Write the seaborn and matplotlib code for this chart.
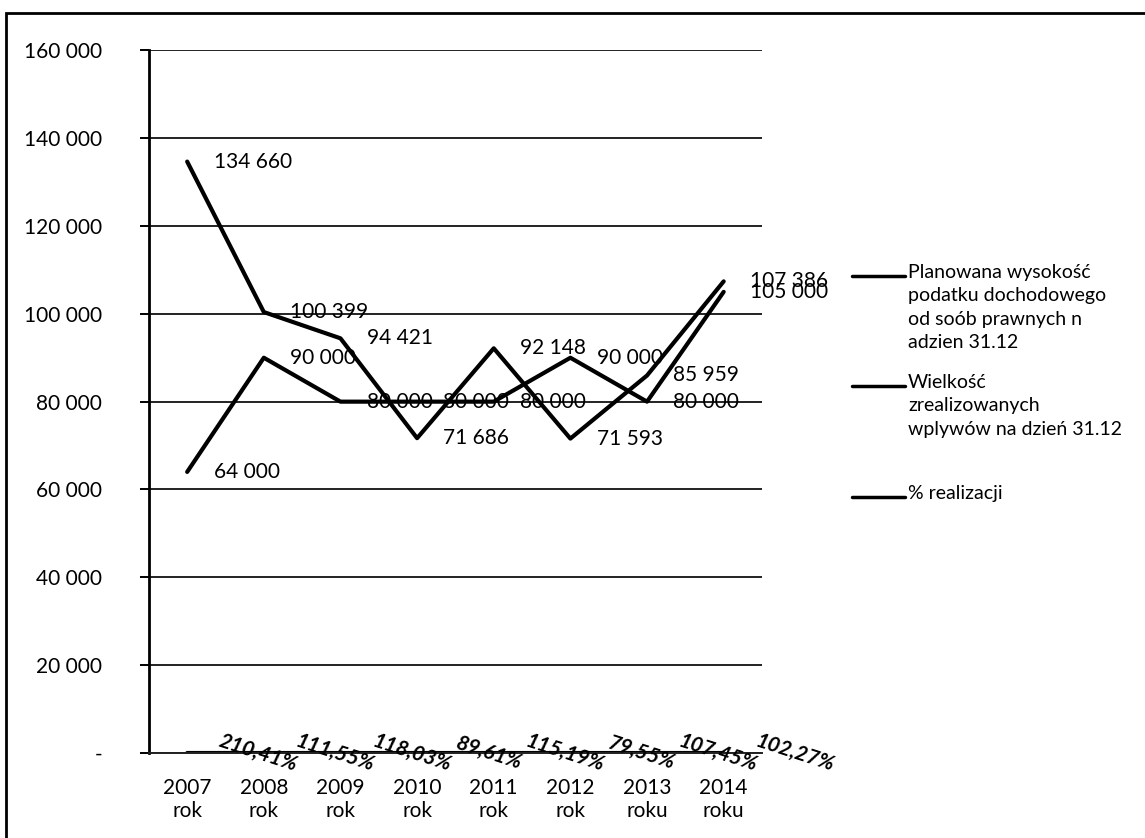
import pandas as pd
import matplotlib.pyplot as plt
from matplotlib.lines import Line2D
from matplotlib.patches import Rectangle
from matplotlib.ticker import FuncFormatter, MultipleLocator
import seaborn as sns

# dane z wykresu
lata = ['2007\nrok', '2008\nrok', '2009\nrok', '2010\nrok', '2011\nrok',
        '2012\nrok', '2013\nroku', '2014\nroku']
planowana = [64000, 90000, 80000, 80000, 80000, 90000, 80000, 105000]
zrealizowane = [134660, 100399, 94421, 71686, 92148, 71593, 85959, 107386]
realizacja = [210.41, 111.55, 118.03, 89.61, 115.19, 79.55, 107.45, 102.27]

nazwy = ['Planowana wysokość\npodatku dochodowego\nod soób prawnych n\nadzien 31.12',
         'Wielkość\nzrealizowanych\nwplywów na dzień 31.12',
         '% realizacji']

sns.set_theme(style='white')
plt.rcParams['font.family'] = ['Lato', 'DejaVu Sans']

def tys(v):
    return f'{v:,.0f}'.replace(',', ' ')

# tabela w formacie długim dla seaborn
rows = []
for i in range(len(lata)):
    rows.append({'poz': i, 'wartosc': planowana[i], 'seria': nazwy[0]})
    rows.append({'poz': i, 'wartosc': zrealizowane[i], 'seria': nazwy[1]})
    rows.append({'poz': i, 'wartosc': realizacja[i] / 100, 'seria': nazwy[2]})
df = pd.DataFrame(rows)

fig = plt.figure(figsize=(11.45, 8.38), dpi=100)
ax = fig.add_axes([0.130, 0.1014, 0.5355, 0.8386])

sns.lineplot(data=df, x='poz', y='wartosc', hue='seria', hue_order=nazwy,
             palette=['black'] * 3, linewidth=3, legend=False, ax=ax)

# etykiety danych
for i in range(len(lata)):
    for v in (planowana[i], zrealizowane[i]):
        ax.annotate(tys(v), (i, v), xytext=(19, 0), textcoords='offset points',
                    ha='left', va='center', fontsize=15, color='black')
    ax.annotate(f'{realizacja[i]:.2f}%'.replace('.', ','), (i, realizacja[i] / 100),
                xytext=(51, 0), textcoords='offset points', ha='center', va='center',
                rotation=-18, fontsize=15, fontstyle='italic', fontweight='bold',
                color='black')

ax.set_xlim(-0.5, len(lata) - 0.5)
ax.set_ylim(0, 160000)
ax.yaxis.set_major_locator(MultipleLocator(20000))
ax.yaxis.set_major_formatter(FuncFormatter(lambda v, p: '-' if v == 0 else tys(v)))
ax.set_xticks(range(len(lata)))
ax.set_xticklabels(lata)
ax.set_xlabel('')
ax.set_ylabel('')
ax.grid(axis='y', color='#222222', linewidth=1.4)
ax.grid(axis='x', visible=False)
ax.tick_params(axis='y', length=6.5, width=1.4, color='black', direction='out',
               pad=27, labelsize=15, left=True)
ax.tick_params(axis='x', length=0, pad=18, labelsize=15)
for s in ['top', 'right']:
    ax.spines[s].set_visible(False)
ax.spines['left'].set_color('black')
ax.spines['left'].set_linewidth(2)
ax.spines['bottom'].set_color('#222222')
ax.spines['bottom'].set_linewidth(1.4)
for t in ax.get_yticklabels() + ax.get_xticklabels():
    t.set_color('black')

# legenda po prawej
W, H = 1145, 838
leg_y = [276, 386, 497]
for y, txt in zip(leg_y, nazwy):
    fig.add_artist(Line2D([852 / W, 905 / W], [1 - y / H, 1 - y / H],
                          color='black', linewidth=2.5))
    fig.text(908 / W, 1 - (y - 12) / H, txt, ha='left', va='top',
             fontsize=14, linespacing=1.45, color='black')

# ramka wykresu
fig.add_artist(Rectangle((6 / W, -0.1), 1.2, 1.1 - 13 / H, fill=False,
                         edgecolor='black', linewidth=2, transform=fig.transFigure))

fig.savefig('out.png', dpi=100)
